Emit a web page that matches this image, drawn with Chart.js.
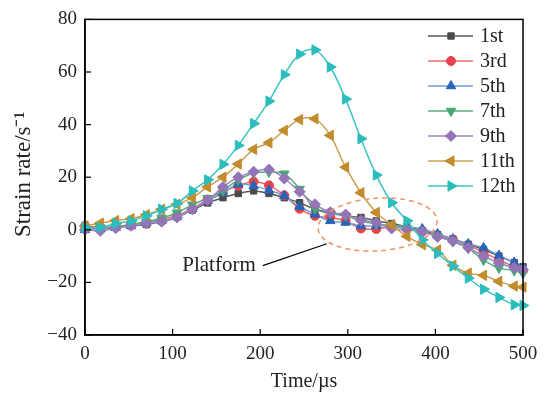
<!DOCTYPE html>
<html>
<head>
<meta charset="utf-8">
<script src="https://cdn.jsdelivr.net/npm/chart.js@4.4.0/dist/chart.umd.min.js"></script>
<style>
html,body{margin:0;padding:0;background:#fff;}
#wrap{width:546px;height:394px;position:relative;}
</style>
</head>
<body>
<div id="wrap"><canvas id="c" width="546" height="394"></canvas></div>
<script>
// ---- data ----
const times = [0,17.5,35,52.5,70,87.5,105,122.5,140,157.5,175,192.5,210,227.5,245,262.5,280,297.5,315,332.5,350,367.5,385,402.5,420,437.5,455,472.5,490,500];
const seriesNames = ["1st","3rd","5th","7th","9th","11th","12th"];
const s1st  = [0.5,0.8,1.0,1.5,2.0,3.2,4.8,7.5,10.2,12.2,13.8,14.8,13.8,12.2,10.3,7.8,6.6,5.3,4.7,3.4,2.4,1.2,-0.3,-1.8,-3.5,-5.5,-7.5,-10.0,-12.5,-14.0];
const s3rd  = [1.5,1.0,1.2,2.0,3.0,4.0,5.5,8.0,11.5,14.5,16.7,18.3,16.9,13.1,8.0,5.3,4.7,3.4,0.5,0.3,1.2,0.5,-0.8,-2.2,-3.8,-6.0,-8.5,-11.5,-14.0,-15.5];
const s5th  = [0.0,0.5,0.8,1.5,2.5,3.5,5.0,8.0,11.0,14.0,17.3,16.7,15.0,12.9,8.8,5.9,3.4,2.8,1.5,1.5,1.5,1.2,0.3,-1.6,-3.5,-5.4,-6.9,-9.8,-12.4,-14.3];
const s7th  = [0.5,0.8,1.2,2.0,3.0,4.5,6.5,9.5,12.0,15.0,19.0,21.5,22.0,21.3,15.5,8.0,6.2,5.3,3.4,2.2,1.5,0.5,-0.8,-2.5,-4.5,-7.0,-11.5,-14.5,-15.5,-16.5];
const s9th  = [0.0,-0.4,0.6,1.5,2.4,3.1,4.7,7.8,11.2,16.3,20.0,22.1,22.9,19.5,14.5,9.7,6.7,5.8,3.6,2.8,0.5,0.0,-0.7,-2.7,-4.3,-6.8,-10.0,-12.6,-14.4,-15.1];
const s11th = [1.5,2.5,3.5,4.2,5.7,7.8,9.7,12.2,16.3,20.0,25.0,30.6,33.1,37.8,41.9,42.2,35.9,23.8,14.1,6.6,1.9,-2.5,-5.6,-7.7,-13.5,-16.5,-17.3,-19.6,-21.4,-21.8];
const s12th = [1.0,0.9,2.4,3.4,5.3,7.8,10.0,14.8,19.0,24.9,32.1,40.4,48.9,59.0,66.8,68.4,61.9,49.7,34.6,20.8,10.3,3.4,-3.8,-9.0,-13.8,-18.4,-22.6,-25.7,-28.5,-28.8];
const xTicks = [0,100,200,300,400,500];
const yTicks = [-40,-20,0,20,40,60,80];
const annotationText = "Platform";

// ---- styles ----
const seriesValues = [s1st,s3rd,s5th,s7th,s9th,s11th,s12th];
const lineColors  = ["#5a5a5a","#ec6a6a","#6f9bd6","#55b07e","#9d84c2","#c9a250","#3cc3c3"];
const markColors  = ["#4a4a4a","#e8434b","#2a64b8","#46a873","#9474b6","#c28b2c","#2bbdbd"];
const pStyles     = ["rect","circle","triangle","triangle","rectRot","triangle","triangle"];
const pRot        = [0,0,0,180,0,-90,90];
const pRad        = [4.5,4.5,5.5,5.5,5.5,6,6];
const FONT = "'Liberation Serif','Times New Roman',serif";

const datasets = seriesNames.map((n,i)=>({
  label:n,
  data: times.map((t,j)=>({x:t,y:seriesValues[i][j]})),
  borderColor: lineColors[i],
  backgroundColor: markColors[i],
  pointBackgroundColor: markColors[i],
  pointBorderColor: markColors[i],
  pointBorderWidth: 1,
  pointStyle: pStyles[i],
  rotation: pRot[i],
  pointRadius: pRad[i],
  borderWidth: 1.5,
  tension: 0.35,
  clip: false,
  order: seriesNames.length - i
}));

const framePlugin = {
  id:'frame',
  afterDraw(chart){
    const {ctx, chartArea:a, scales:{x,y}} = chart;
    ctx.save();
    ctx.strokeStyle = '#000';
    ctx.lineWidth = 1.5;
    ctx.strokeRect(a.left, a.top, a.right-a.left, a.bottom-a.top);
    ctx.lineWidth = 1.2;
    xTicks.forEach(v=>{const px=x.getPixelForValue(v);ctx.beginPath();ctx.moveTo(px,a.bottom);ctx.lineTo(px,a.bottom-6);ctx.stroke();});
    yTicks.forEach(v=>{const py=y.getPixelForValue(v);ctx.beginPath();ctx.moveTo(a.left,py);ctx.lineTo(a.left+6,py);ctx.stroke();});
    ctx.restore();
  }
};

const annoPlugin = {
  id:'anno',
  afterDatasetsDraw(chart){
    const {ctx, scales:{x,y}} = chart;
    ctx.save();
    const cx = x.getPixelForValue(334), cy = y.getPixelForValue(2.0);
    const rx = x.getPixelForValue(334+68)-cx, ry = cy - y.getPixelForValue(2.0+10);
    ctx.strokeStyle = '#f29466';
    ctx.lineWidth = 1.5;
    ctx.setLineDash([5,4]);
    ctx.beginPath();
    ctx.ellipse(cx, cy, rx, ry, -0.07, 0, Math.PI*2);
    ctx.stroke();
    ctx.setLineDash([]);
    ctx.strokeStyle = '#000';
    ctx.lineWidth = 1.2;
    ctx.beginPath();
    ctx.moveTo(x.getPixelForValue(203), y.getPixelForValue(-13.6));
    ctx.lineTo(x.getPixelForValue(276), y.getPixelForValue(-5.3));
    ctx.stroke();
    ctx.fillStyle = '#222';
    ctx.font = "21px " + FONT;
    ctx.textAlign = 'left';
    ctx.textBaseline = 'alphabetic';
    ctx.fillText(annotationText, x.getPixelForValue(111), y.getPixelForValue(-15.5));
    ctx.restore();
  }
};

const legendPlugin = {
  id:'customLegend',
  afterDraw(chart){
    const {ctx} = chart;
    ctx.save();
    seriesNames.forEach((n,i)=>{
      const yy = 36 + 25*i;
      ctx.strokeStyle = lineColors[i];
      ctx.lineWidth = 1.5;
      ctx.beginPath(); ctx.moveTo(428,yy); ctx.lineTo(473,yy); ctx.stroke();
      ctx.fillStyle = markColors[i];
      ctx.strokeStyle = markColors[i];
      ctx.lineWidth = 1;
      Chart.helpers.drawPoint(ctx,{pointStyle:pStyles[i],rotation:pRot[i],radius:pRad[i],borderWidth:1},451,yy);
      ctx.fillStyle = '#222';
      ctx.font = "20px " + FONT;
      ctx.textAlign='left'; ctx.textBaseline='middle';
      ctx.fillText(n, 480, yy+1);
    });
    ctx.restore();
  }
};

new Chart(document.getElementById('c'), {
  type:'line',
  data:{datasets},
  options:{
    responsive:false,
    animation:false,
    layout:{padding:{top:18,right:23,left:0,bottom:0}},
    plugins:{legend:{display:false},tooltip:{enabled:false}},
    elements:{line:{fill:false}},
    scales:{
      x:{type:'linear',min:0,max:500,
        afterFit(s){s.height=59;},
        afterBuildTicks(s){s.ticks=xTicks.map(v=>({value:v}));},
        grid:{display:true,drawOnChartArea:false,drawTicks:false,color:'#000'},
        border:{display:true,color:'#000',width:1.5},
        ticks:{color:'#222',padding:8,font:{family:FONT,size:19}},
        title:{display:true,text:'Time/\u00b5s',color:'#222',font:{family:FONT,size:20},padding:{top:0,bottom:0}}
      },
      y:{type:'linear',min:-40,max:80,
        afterFit(s){s.width=85;},
        afterBuildTicks(s){s.ticks=yTicks.map(v=>({value:v}));},
        grid:{display:true,drawOnChartArea:false,drawTicks:false,color:'#000'},
        border:{display:true,color:'#000',width:1.5},
        ticks:{color:'#222',padding:8,font:{family:FONT,size:19},callback:v=>String(v).replace('-','\u2212')},
        title:{display:true,text:' Strain rate/s\u207b\u00b9',color:'#222',font:{family:FONT,size:23},padding:{top:10,bottom:4}}
      }
    }
  },
  plugins:[framePlugin,annoPlugin,legendPlugin]
});
</script>
</body>
</html>
